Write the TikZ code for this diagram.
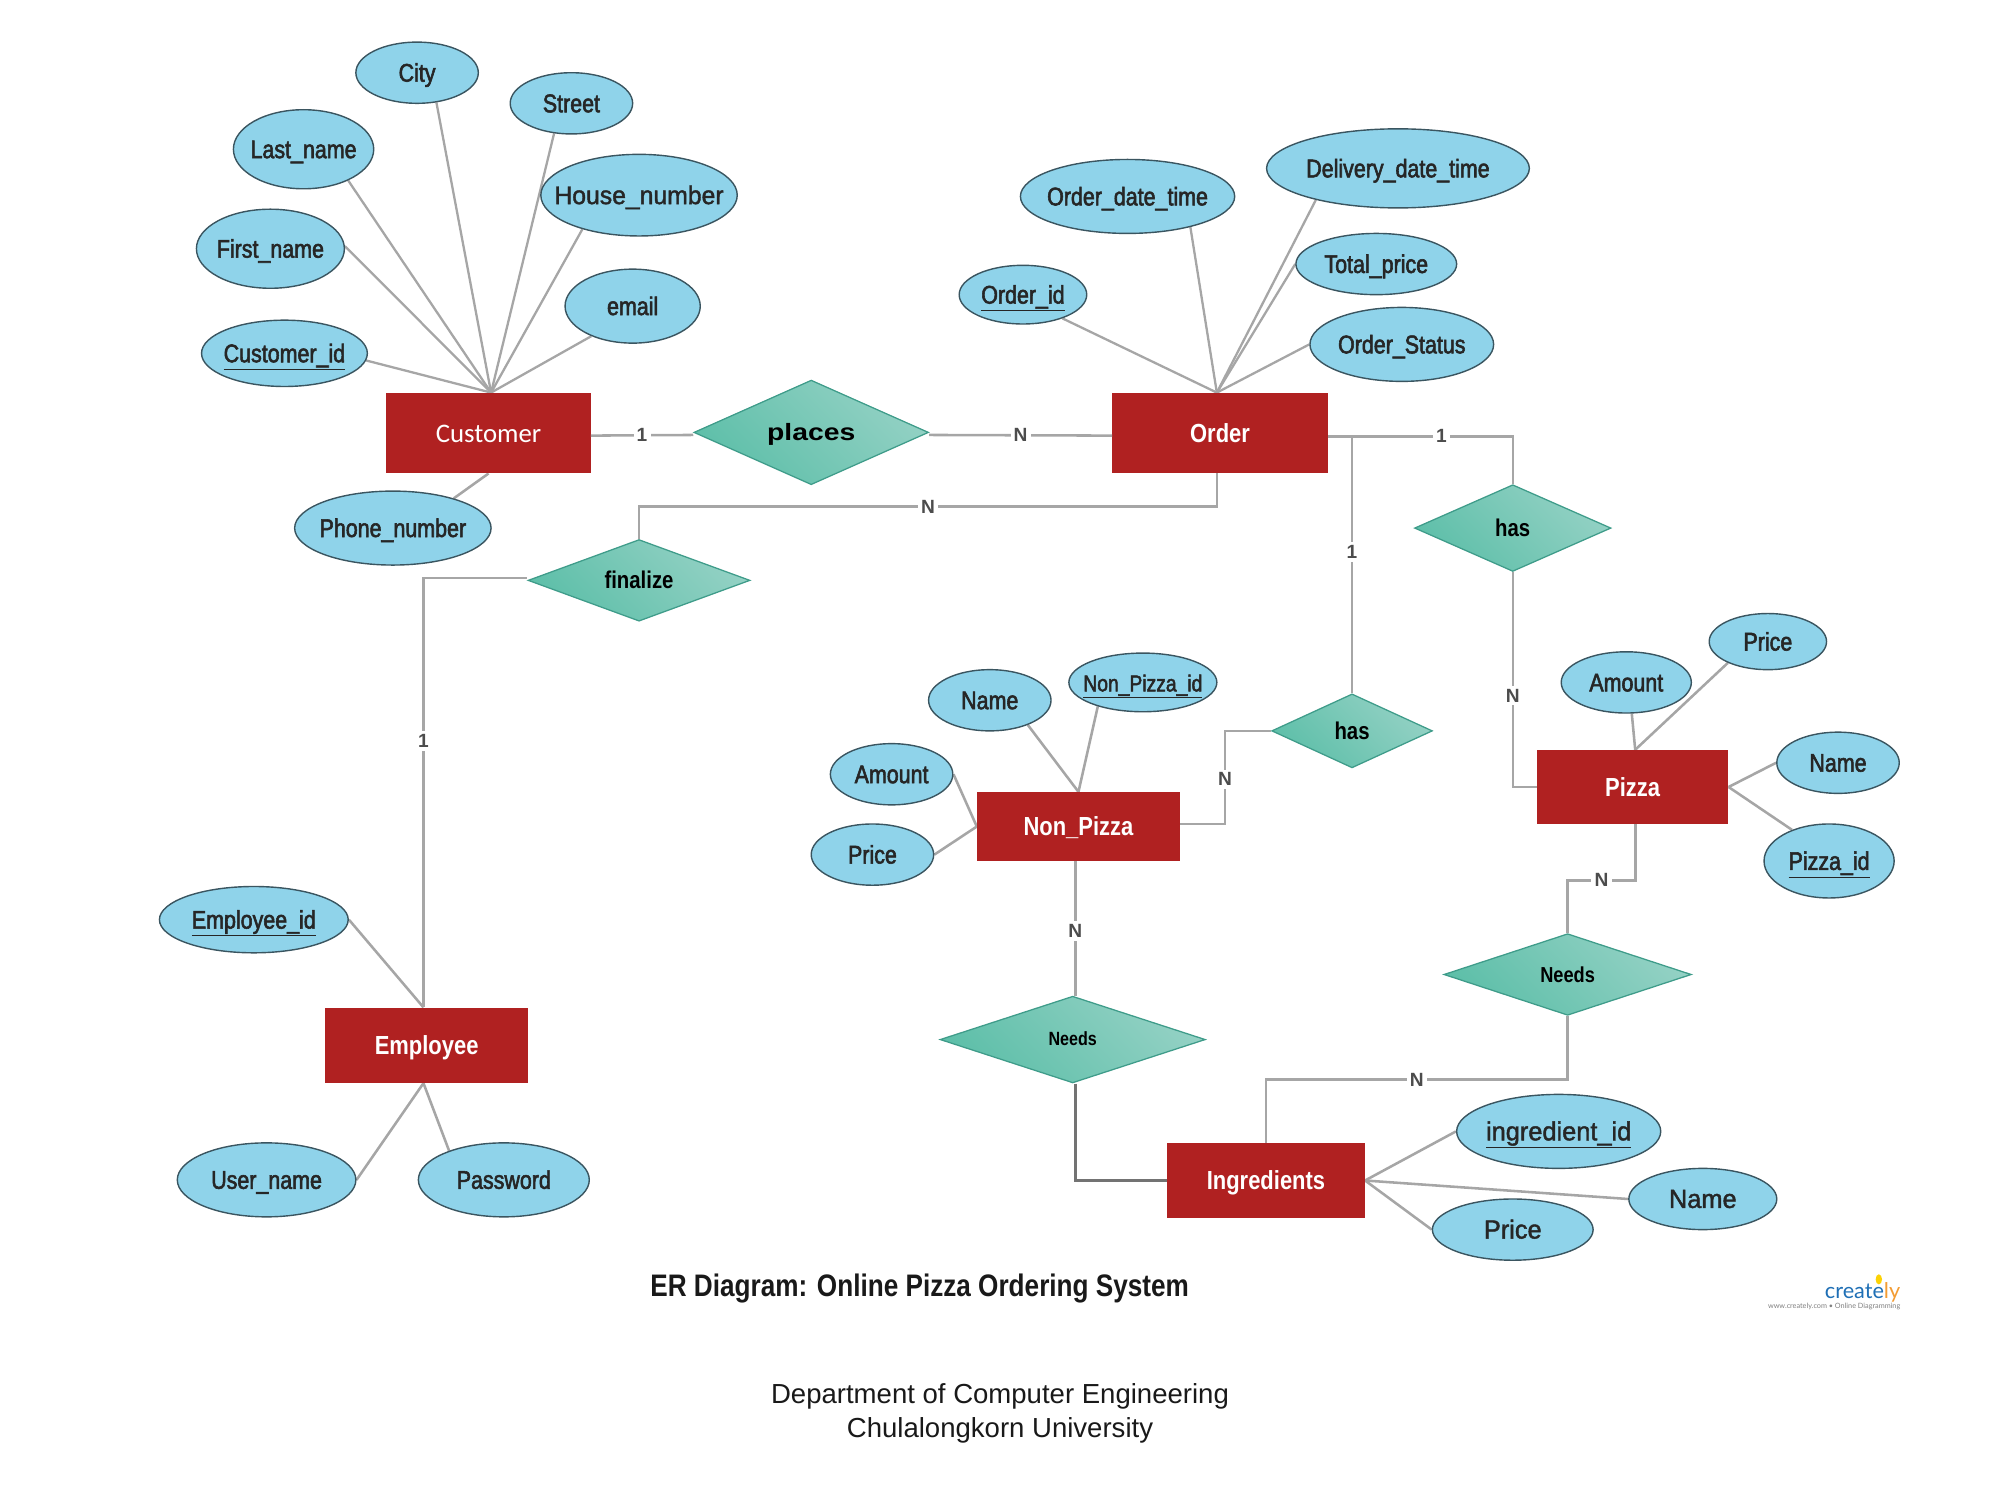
\documentclass[tikz,border=0pt]{standalone}
\usepackage{fontspec}
\usetikzlibrary{shapes.geometric,backgrounds}
\setmainfont{Liberation Sans}
\newfontfamily\cond[FakeStretch=0.84,FakeBold=2.2]{Liberation Sans}
\newfontfamily\wide[FakeStretch=0.97,FakeBold=1.6]{Liberation Sans}
\newfontfamily\condb[FakeStretch=0.84,BoldFont={Liberation Sans Bold}]{Liberation Sans}
\newfontfamily\widebold[FakeStretch=1.2]{Liberation Sans Bold}
\newfontfamily\carlito{Carlito}
\newfontfamily\lato{Lato}
\definecolor{attrfill}{HTML}{8FD3EA}
\definecolor{attrline}{HTML}{3A5560}
\definecolor{entfill}{HTML}{B02121}
\definecolor{conn}{HTML}{A6A6A6}
\definecolor{reldark}{HTML}{5EBFA9}
\definecolor{rellight}{HTML}{93D1C4}
\definecolor{relline}{HTML}{3F9C8A}
\newcommand{\fs}[1]{\fontsize{#1}{#1}\selectfont}
\tikzset{
  attr/.style 2 args={ellipse,draw=attrline,line width=1.1pt,fill=attrfill,inner xsep=-40pt,inner ysep=-12pt,
    minimum width=2*#1,minimum height=2*#2,text=black!85,font=\cond\fs{20},text height=14pt,text depth=0pt},
  ent/.style 2 args={rectangle,fill=entfill,inner sep=0pt,minimum width=#1,minimum height=#2,
    text=white,font=\condb\bfseries\fs{20.5},text height=14.5pt,text depth=0pt},
  rel/.style n args={3}{diamond,draw=relline,line width=1pt,bottom color=reldark,top color=rellight,
    middle color=reldark!50!rellight,shading angle=-45,inner sep=0pt,minimum width=2*#1,minimum height=2*#2,
    aspect=#3,text=black,font=\condb\bfseries\fs{19},text height=13pt,text depth=0pt},
  link/.style={draw=conn,line width=2pt,line join=miter},
  darklink/.style={draw=black!55,line width=2.2pt},
  lbl/.style={fill=white,inner sep=2.5pt,text=black!70,font=\bfseries\fs{15}},
}
\begin{document}
\begin{tikzpicture}[x=1pt,y=-1pt]
\useasboundingbox (0,0) rectangle (1568,1176);
% customer side
\node[attr={48pt}{24pt}] (city) at (327,57) {City};
\node[attr={48pt}{24pt}] (street) at (448,81) {Street};
\node[attr={55pt}{31pt}] (lastname) at (238,117) {Last\_name};
\node[attr={77pt}{32pt},font=\wide\fs{20}] (house) at (501,153) {House\_number};
\node[attr={58pt}{31pt}] (firstname) at (212,195) {First\_name};
\node[attr={53pt}{29pt}] (email) at (496,240) {email};
\node[attr={65pt}{26pt}] (custid) at (223,277) {\underline{Customer\_id}};
\node[attr={77pt}{29pt}] (phone) at (308,414) {Phone\_number};
% order side
\node[attr={84pt}{29pt}] (odt) at (884,154) {Order\_date\_time};
\node[attr={103pt}{31pt}] (ddt) at (1096,132) {Delivery\_date\_time};
\node[attr={63pt}{24pt}] (total) at (1079,207) {Total\_price};
\node[attr={50pt}{23pt}] (orderid) at (802,231) {\underline{Order\_id}};
\node[attr={72pt}{29pt}] (status) at (1099,270) {Order\_Status};
% non pizza
\node[attr={48pt}{24pt}] (npname) at (776,549) {Name};
\node[attr={58pt}{23pt},font=\cond\fs{18}] (npid) at (896,535) {\underline{Non\_Pizza\_id}};
\node[attr={48pt}{24pt}] (npamount) at (699,607) {Amount};
\node[attr={48pt}{24pt}] (npprice) at (684,670) {Price};
% pizza
\node[attr={51pt}{24pt}] (pamount) at (1275,535) {Amount};
\node[attr={46pt}{22pt}] (pprice) at (1386,503) {Price};
\node[attr={48pt}{24pt}] (pname) at (1441,598) {Name};
\node[attr={51pt}{29pt}] (pid) at (1434,675) {\underline{Pizza\_id}};
% employee
\node[attr={74pt}{26pt}] (empid) at (199,721) {\underline{Employee\_id}};
\node[attr={70pt}{29pt}] (user) at (209,925) {User\_name};
\node[attr={67pt}{29pt}] (pass) at (395,925) {Password};
% ingredients
\node[attr={80pt}{29pt},font=\wide\fs{20.5}] (ingid) at (1222,887) {\underline{ingredient\_id}};
\node[attr={58pt}{24pt},font=\wide\fs{20.5}] (iname) at (1335,940) {Name};
\node[attr={63pt}{24pt},font=\wide\fs{20.5}] (iprice) at (1186,964) {Price};
% entities
\node[ent={160pt}{63pt},font=\carlito\fs{21}] (customer) at (383,339.5) {Customer};
\node[ent={169pt}{63pt}] (order) at (956.5,339.5) {Order};
\node[ent={150pt}{58pt}] (pizza) at (1280,617) {Pizza};
\node[ent={159pt}{54pt}] (nonpizza) at (845.5,648) {Non\_Pizza};
\node[ent={159pt}{59pt}] (employee) at (334.5,819.5) {Employee};
\node[ent={155pt}{59pt}] (ingredients) at (992.5,925.5) {Ingredients};
% relationships
\node[rel={92pt}{41pt}{2.24},font=\widebold\fs{18.5}] (places) at (636,339) {places};
\node[rel={87pt}{32pt}{2.72}] (finalize) at (501,455) {finalize};
\node[rel={77pt}{34pt}{2.26}] (hasa) at (1186,414) {has};
\node[rel={63pt}{29pt}{2.17}] (hasb) at (1060,573) {has};
\node[rel={104pt}{34pt}{3.06},font=\condb\bfseries\fs{15},text height=10pt] (needsa) at (841,815) {Needs};
\node[rel={97pt}{32pt}{3.03},font=\condb\bfseries\fs{17},text height=12pt] (needsb) at (1229,764) {Needs};
% titles
\node[font=\condb\bfseries\fs{24.4},text=black!90] (title) at (721,1010) {ER Diagram: Online Pizza Ordering System};
\node[font=\fs{21.6},text=black!90] (dept) at (784,1094.5) {Department of Computer Engineering};
\node[font=\fs{21.6},text=black!90] (univ) at (784,1121.5) {Chulalongkorn University};
% logo
\node[font=\lato\fs{17},inner sep=0pt,anchor=east] (logo) at (1490,1013) {\textcolor[HTML]{1F6FB5}{create}\textcolor[HTML]{F39C33}{ly}};
\node[font=\lato\fs{5.7},inner sep=0pt,text=black!50,anchor=east] (tag) at (1490,1024.5) {www.creately.com • Online Diagramming};
\node[ellipse,fill=yellow!70!orange,inner sep=0pt,minimum width=5pt,minimum height=8pt] (bulb) at (1473,1003) {};
\begin{pgfonlayer}{background}
% customer attributes
\foreach \a/\ang in {city/-57,lastname/-35,firstname/2,custid/-5,street/-120,house/-149,email/-144}
  \draw[link,line width=1.8pt] (\a.\ang) -- ([xshift=2pt]customer.north);
\draw[link] (phone.26) -- (customer.south);
% order attributes
\foreach \a/\ang in {odt/-26,ddt/-159,total/180,orderid/-31,status/180}
  \draw[link,line width=1.8pt] (\a.\ang) -- ([xshift=-2.5pt]order.north);
% pizza attributes
\draw[link] (pamount.-80) -- ([xshift=2pt]pizza.north);
\draw[link] (pprice.-152) -- ([xshift=2pt]pizza.north);
\draw[link] (pname.180) -- (pizza.east);
\draw[link] (pid.140) -- (pizza.east);
% non pizza attributes
\draw[link] (npname.-33) -- (nonpizza.north);
\draw[link] (npid.-152) -- (nonpizza.north);
\draw[link] (npamount.0) -- (nonpizza.west);
\draw[link] (npprice.0) -- (nonpizza.west);
% employee attributes
\draw[link] (empid.0) -- ([xshift=-2.5pt]employee.north);
\draw[link] (user.0) -- ([xshift=-2.5pt]employee.south);
\draw[link] (pass.152) -- ([xshift=-2.5pt]employee.south);
% ingredients attributes
\draw[link] (ingid.180) -- (ingredients.east);
\draw[link] (iname.180) -- (ingredients.east);
\draw[link] (iprice.180) -- (ingredients.east);
\end{pgfonlayer}
% relationship connectors
\draw[link] ([yshift=-2pt]customer.east) -- node[lbl] {1} ([yshift=-2pt]places.west);
\draw[link] ([yshift=-2pt]places.east) -- node[lbl] {N} ([yshift=-2pt]order.west);
\draw[link] ([xshift=-2.5pt]order.south) -- ++(0,26) -| node[lbl,pos=.25] {N} (finalize.north);
\draw[link] ([xshift=-2.5pt]employee.north) |- node[lbl,pos=.31] {1} ([yshift=2pt]finalize.west);
\draw[link] ([yshift=-2.5pt]order.east) -| node[lbl,pos=.307] {1} (hasa.north);
\draw[link] ([yshift=-2.5pt]order.east -| hasb.north) -- node[lbl,pos=.45] {1} (hasb.north);
\draw[link] (hasa.south) |- node[lbl,pos=.287] {N} (pizza.west);
\draw[link] (hasb.west) -- ++(-36,0) |- node[lbl,pos=.26] {N} ([yshift=2pt]nonpizza.east);
\draw[link] ([xshift=-2.5pt]nonpizza.south) -- node[lbl,pos=.52] {N} ([xshift=2pt]needsa.north);
\draw[darklink] ([xshift=2pt]needsa.south) |- (ingredients.west);
\draw[link] ([xshift=2pt]pizza.south) -- ++(0,44) -| node[lbl,pos=.25] {N} (needsb.north);
\draw[link] (needsb.south) -- ++(0,50) -| node[lbl,pos=.25] {N} (ingredients.north);
\end{tikzpicture}
\end{document}
